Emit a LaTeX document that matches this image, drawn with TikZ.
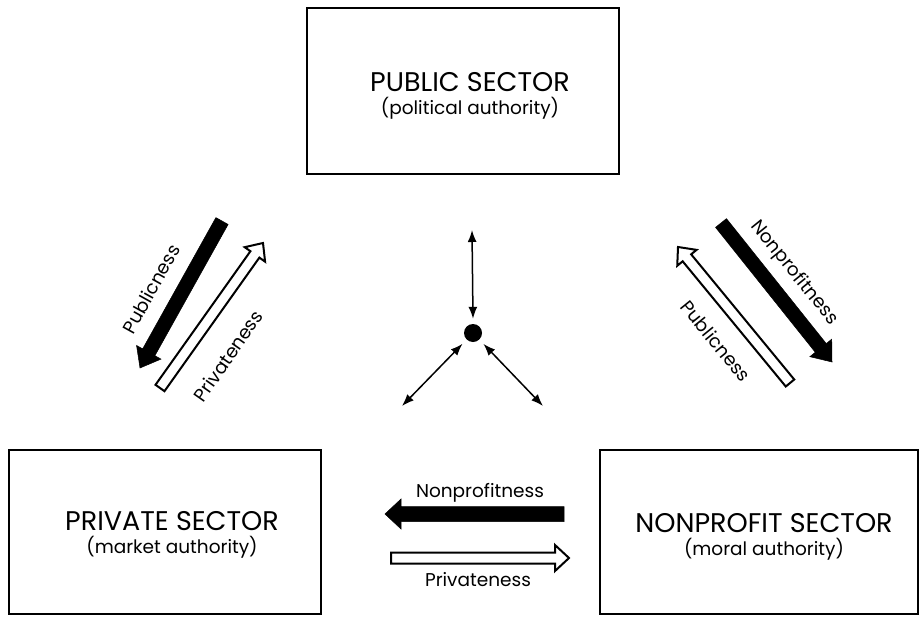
\documentclass[tikz,border=0pt]{standalone}
\usepackage{fontspec}
\setmainfont{Poppins}
\usetikzlibrary{calc,arrows.meta}
\newcommand{\ArrowBody}[6]{%
  \path (#3) coordinate (tmpH) (#2) coordinate (tmpT) ($(tmpH)!#6!(tmpT)$) coordinate (tmpN);
  \draw[#1] ($(tmpT)!#4!90:(tmpH)$) -- ($(tmpN)!#4!-90:(tmpT)$) -- ($(tmpN)!#5!-90:(tmpT)$)
     -- (tmpH) -- ($(tmpN)!#5!90:(tmpT)$) -- ($(tmpN)!#4!90:(tmpT)$) -- ($(tmpT)!#4!-90:(tmpH)$) -- cycle;
}
\tikzset{
  sector/.style={draw, line width=2pt, inner sep=0pt},
  bigtxt/.style={font=\fontsize{27}{30}\selectfont, anchor=base, inner sep=0pt},
  smalltxt/.style={font=\fontsize{18.5}{21}\selectfont, anchor=base, inner sep=0pt},
  lbl/.style={font=\fontsize{18.5}{20}\selectfont, inner sep=0pt},
  solidarrow/.style={fill=black, draw=black, line width=0.5pt, line join=miter},
  hollowarrow/.style={fill=white, draw=black, line width=2pt, line join=miter},
  thin2/.style={line width=1.5pt, {Latex[length=12pt,width=9pt]}-{Latex[length=12pt,width=9pt]}}
}
\begin{document}
\begin{tikzpicture}[x=1pt,y=-1pt]
\useasboundingbox (0,0) rectangle (923,616);
% boxes
\draw[sector] (307,8) rectangle (619,174);
\node (pubA) at (470,91) [bigtxt] {PUBLIC SECTOR};
\node (pubB) at (470,114) [smalltxt] {(political authority)};
\draw[sector] (9,450) rectangle (321,614);
\node (priA) at (172,530) [bigtxt] {PRIVATE SECTOR};
\node (priB) at (172,553) [smalltxt] {(market authority)};
\draw[sector] (600,450) rectangle (918,614);
\node (nonA) at (764,532) [bigtxt] {NONPROFIT SECTOR};
\node (nonB) at (764,555) [smalltxt] {(moral authority)};
% left diagonal pair
\coordinate (lbT) at (222,221);
\coordinate (lbH) at (140,368);
\ArrowBody{solidarrow}{lbT}{lbH}{7pt}{14pt}{18pt}
\coordinate (lwT) at (160,388);
\coordinate (lwH) at (263,243);
\ArrowBody{hollowarrow}{lwT}{lwH}{5.5pt}{12.5pt}{14pt}
\node (lbl1) at (151,289) [lbl, rotate=61] {Publicness};
\node (lbl2) at (228,356) [lbl, rotate=55] {Privateness};
% right diagonal pair
\coordinate (rbT) at (721,223);
\coordinate (rbH) at (832,362);
\ArrowBody{solidarrow}{rbT}{rbH}{7pt}{14pt}{18pt}
\coordinate (rwT) at (790,383);
\coordinate (rwH) at (678,247);
\ArrowBody{hollowarrow}{rwT}{rwH}{5.5pt}{12.5pt}{14pt}
\node (lbl3) at (794,273) [lbl, rotate=-51] {Nonprofitness};
\node (lbl4) at (716,341) [lbl, rotate=-51] {Publicness};
% bottom pair
\coordinate (bbT) at (564,514);
\coordinate (bbH) at (385,514);
\ArrowBody{solidarrow}{bbT}{bbH}{7.5pt}{15pt}{16pt}
\coordinate (bwT) at (391,558);
\coordinate (bwH) at (569,558);
\ArrowBody{hollowarrow}{bwT}{bwH}{5.5pt}{13pt}{14pt}
\node (lbl5) at (480,497) [lbl, anchor=base] {Nonprofitness};
\node (lbl6) at (478,586) [lbl, anchor=base] {Privateness};
% centre
\node (dot) at (473,333) [circle, fill=black, minimum size=18pt, inner sep=0pt] {};
\coordinate (cTop) at (472,230);
\coordinate (cL) at (402,406);
\coordinate (cR) at (543,406);
\draw[thin2] (cTop) -- ($(dot.north)+(0,-5)$);
\draw[thin2] (cL) -- ($(dot)!15pt!(cL)$);
\draw[thin2] (cR) -- ($(dot)!15pt!(cR)$);
\end{tikzpicture}
\end{document}
